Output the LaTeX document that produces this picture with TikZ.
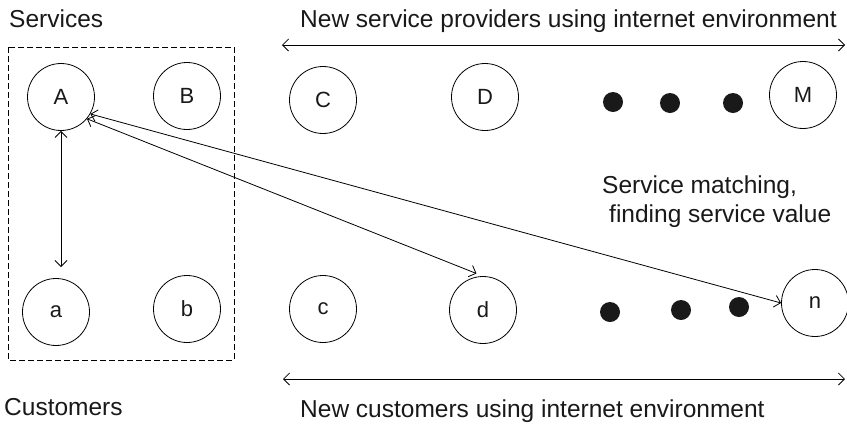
\documentclass[tikz,border=0pt]{standalone}
\usepackage{fontspec}
\setmainfont{Liberation Sans}
\usetikzlibrary{arrows.meta}
\begin{document}
\begin{tikzpicture}[x=1pt,y=-1pt,
  every node/.style={text=black!90},
  lbl/.style={font=\fontsize{24.5}{29}\selectfont, inner sep=0pt},
  party/.style={draw, circle, minimum size=67pt, inner sep=0pt, line width=0.8pt,
    font=\fontsize{22}{26}\selectfont},
  ellip/.style={fill=black!90, circle, minimum size=20pt, inner sep=0pt},
  link/.style={line width=0.8pt, {Straight Barb[length=6pt,width=12pt]}-{Straight Barb[length=6pt,width=12pt]}}]
\useasboundingbox (0,0) rectangle (847,424);
% customer/service group
\draw[line width=0.8pt, dash pattern=on 6pt off 3pt] (8,47) rectangle (234,360);
% providers
\node[party] (A) at (61,97) {A};
\node[party] (B) at (187,96) {B};
\node[party] (C) at (323,100) {C};
\node[party] (D) at (485,97) {D};
\node[party] (M) at (803,95) {M};
\node[ellip] (p1) at (613,102) {};
\node[ellip] (p2) at (670,103) {};
\node[ellip] (p3) at (733,103) {};
% customers
\node[party] (a) at (56,312) {a};
\node[party] (b) at (187,309) {b};
\node[party] (c) at (323,309) {c};
\node[party] (d) at (483,310) {d};
\node[party] (n) at (815,303) {n};
\node[ellip] (q1) at (610,312) {};
\node[ellip] (q2) at (681,310) {};
\node[ellip] (q3) at (739,307) {};
% labels
\node[lbl, anchor=base west] (svc) at (9,27) {Services};
\node[lbl, anchor=base west] (cus) at (4,415) {Customers};
\node[lbl, anchor=base west] (top) at (300,27) {New service providers using internet environment};
\node[lbl, anchor=base west] (bot) at (300,417) {New customers using internet environment};
\node[lbl, anchor=base west] (m1) at (602,193) {Service matching,};
\node[lbl, anchor=base west] (m2) at (609,222) {finding service value};
% ranges
\coordinate (t1) at (282,45);
\coordinate (t2) at (845,45);
\coordinate (b1) at (283,379);
\coordinate (b2) at (845,379);
\draw[link] (t1) -- (t2);
\draw[link] (b1) -- (b2);
% matching links
\coordinate (aTop) at (61,267);
\draw[link] (A.south) -- (aTop);
\draw[link, shorten >=7pt] (A.-40) -- (d.north);
\draw[link] (A.-30) -- (n.west);
\end{tikzpicture}
\end{document}
